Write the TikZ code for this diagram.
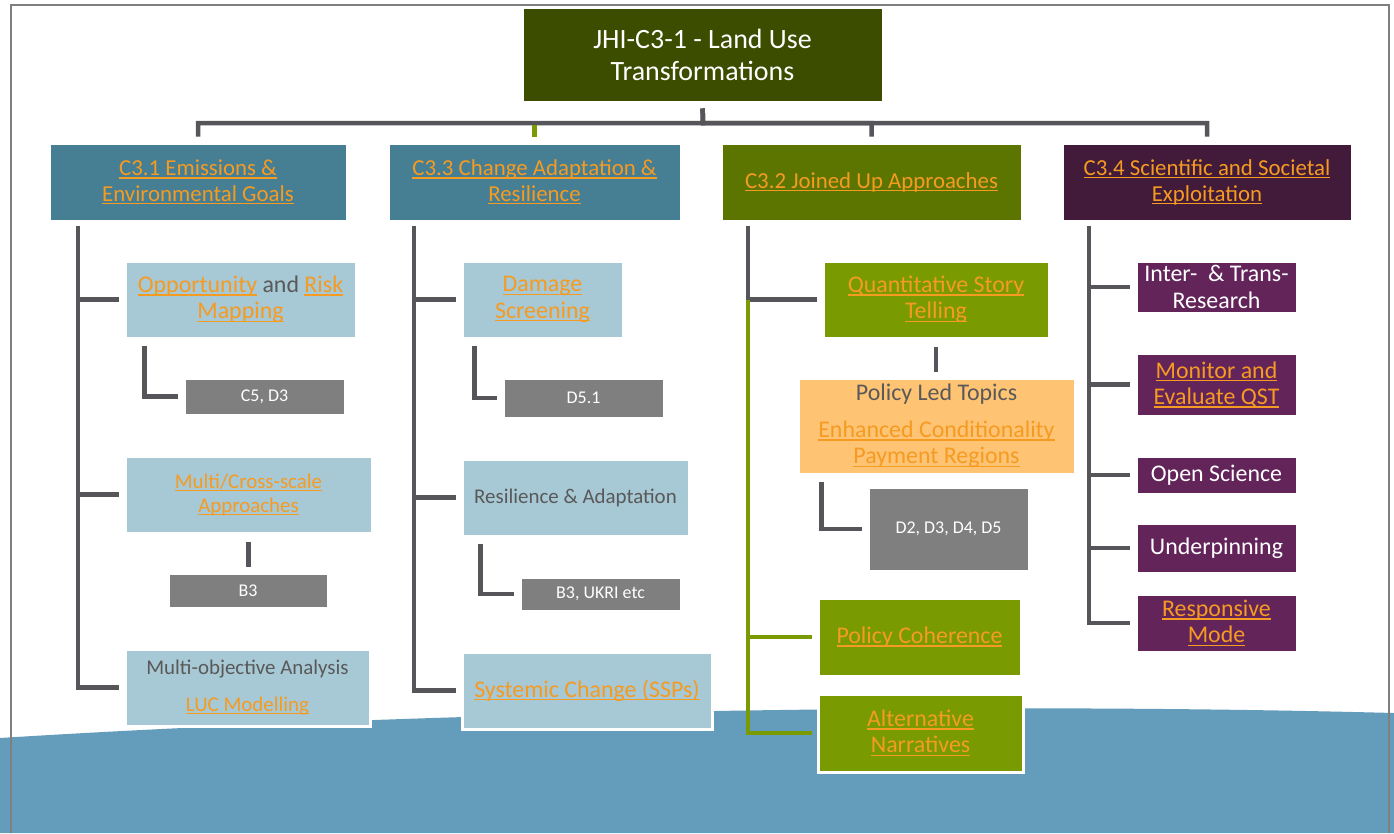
\documentclass[tikz,border=0pt]{standalone}
\usepackage{fontspec}
\setmainfont{Carlito}

\definecolor{topgreen}{HTML}{3D4D00}
\definecolor{hdrteal}{HTML}{467E93}
\definecolor{hdrolive}{HTML}{5C7500}
\definecolor{hdrplum}{HTML}{421A3A}
\definecolor{boxblue}{HTML}{A7C8D5}
\definecolor{boxolive}{HTML}{7A9A01}
\definecolor{boxplum}{HTML}{63245A}
\definecolor{boxgray}{HTML}{7F7F7F}
\definecolor{boxpeach}{HTML}{FFC374}
\definecolor{conngray}{HTML}{55555A}
\definecolor{lnkorange}{HTML}{F59B22}
\definecolor{txtgray}{HTML}{595959}
\definecolor{waveblue}{HTML}{649CBB}
\definecolor{framegray}{HTML}{7F7F7F}

% orange underlined link text
\newcommand\lnk[1]{{\color{lnkorange}\setbox0\hbox{#1}\rlap{\rule[-1.8pt]{\wd0}{0.8pt}}\box0}}

\tikzset{
  sz/.style 2 args={minimum width=#1*0.02cm, minimum height=#2*0.02cm},
  box/.style={draw=white, line width=0.06cm, inner sep=1pt, align=center, text=white,
    font=\fontsize{13.6}{15}\selectfont},
  topbox/.style={box, fill=topgreen, font=\fontsize{15.9}{18.1}\selectfont},
  hdr/.style={box, font=\fontsize{13}{14.7}\selectfont},
  lbox/.style={box, fill=boxblue, text=txtgray},
  gbox/.style={box, fill=boxgray, font=\fontsize{10.2}{12}\selectfont},
  obox/.style={box, fill=boxolive},
  pbox/.style={box, fill=boxplum},
  peach/.style={box, fill=boxpeach, text=txtgray},
  smallfont/.style={font=\fontsize{11.9}{13.6}\selectfont},
  conn/.style={draw=conngray, line width=0.09cm, shorten >=0.1cm},
  conngreen/.style={conn, draw=boxolive},
  frame/.style={draw=framegray, line width=0.03cm},
  wave/.style={fill=waveblue}
}

\begin{document}
\begin{tikzpicture}[x=0.02cm, y=-0.02cm]
\useasboundingbox (0,0) rectangle (1394,833);

% background
\fill[wave] (0,738) .. controls (350,716) and (900,700) .. (1394,713) -- (1394,833) -- (0,833) -- cycle;
\draw[frame] (11,833) -- (11,5) -- (1389,5) -- (1389,833);

% top and headers
\node[topbox, sz={361}{95}] (top) at (702.5,54.5) {JHI-C3-1 - Land Use\\Transformations};
\node[hdr, fill=hdrteal, sz={298}{78}] (h1) at (198,182) {\lnk{C3.1 Emissions \&}\\\lnk{Environmental Goals}};
\node[hdr, fill=hdrteal, sz={293}{78}] (h3) at (534.5,182) {\lnk{C3.3 Change Adaptation \&}\\\lnk{Resilience}};
\node[hdr, fill=hdrolive, sz={301}{78}] (h2) at (871.5,182) {\lnk{C3.2 Joined Up Approaches}};
\node[hdr, fill=hdrplum, sz={290}{78}] (h4) at (1207,182) {\lnk{C3.4 Scientific and Societal}\\\lnk{Exploitation}};

% column C3.1
\node[lbox, sz={231}{77}] (opp) at (240.5,299.5) {\lnk{Opportunity} and \lnk{Risk}\\\lnk{Mapping}};
\node[gbox, sz={161}{37}] (c5) at (264.5,396.5) {C5, D3};
\node[lbox, smallfont, sz={247}{77}] (mc) at (248.5,494.5) {\lnk{Multi/Cross-scale}\\\lnk{Approaches}};
\node[gbox, sz={160}{35}] (b3) at (248,590.5) {B3};
\node[lbox, smallfont, sz={245}{77}] (moa) at (247.5,687.5) {Multi-objective Analysis\\[7pt]\lnk{LUC Modelling}};

% column C3.3
\node[lbox, sz={161}{77}] (dmg) at (542.5,299.5) {\lnk{Damage}\\\lnk{Screening}};
\node[gbox, sz={161}{40}] (d51) at (583.5,398) {D5.1};
\node[lbox, smallfont, sz={227}{77}] (res) at (575.5,497.5) {Resilience \& Adaptation};
\node[gbox, sz={161}{34}] (ukri) at (600.5,594) {B3, UKRI etc};
\node[lbox, sz={250}{77}] (ssp) at (587,690.5) {\lnk{Systemic Change (SSPs)}};

% column C3.2
\node[obox, sz={226}{77}] (qst) at (936,299.5) {\lnk{Quantitative Story}\\\lnk{Telling}};
\node[peach, sz={277}{96}] (plt) at (936.5,426) {Policy Led Topics\\[6pt]\lnk{Enhanced Conditionality}\\\lnk{Payment Regions}};
\node[gbox, sz={161}{84}] (dd) at (948.5,529) {D2, D3, D4, D5};
\node[obox, sz={203}{78}] (pco) at (919.5,637) {\lnk{Policy Coherence}};
\node[obox, sz={205}{78}] (alt) at (920.5,733) {\lnk{Alternative}\\\lnk{Narratives}};

% column C3.4
\node[pbox, sz={161}{52}] (it) at (1216.5,287) {Inter-~ \& Trans-\\Research};
\node[pbox, sz={161}{63}] (mon) at (1216.5,384.5) {\lnk{Monitor and}\\\lnk{Evaluate QST}};
\node[pbox, sz={161}{38}] (os) at (1216.5,475) {Open Science};
\node[pbox, sz={161}{50}] (up) at (1216.5,548) {Underpinning};
\node[pbox, sz={161}{58}] (rm) at (1216.5,623) {\lnk{Responsive}\\\lnk{Mode}};

% top connectors
\coordinate (bus) at (703,123);
\draw[conn, shorten <=0.1cm] (top.south) -- (bus) -| (h1.north);
\draw[conn, shorten <=0.1cm] (top.south) -- (bus) -| (h2.north);
\draw[conn, shorten <=0.1cm] (top.south) -- (bus) -| (h4.north);
\draw[conngreen, shorten <=0.04cm] (h3.north |- bus) -- (h3.north);

% trunks
\coordinate (t1) at (78,226);
\coordinate (t2) at (414,226);
\coordinate (t3) at (748,226);
\coordinate (t3b) at (748,300);
\coordinate (t4) at (1089,226);

\draw[conn] (t1) |- (opp.west);
\draw[conn] (t1) |- (mc.west);
\draw[conn] (t1) |- (moa.west);
\draw[conn] (opp.south west) ++(21,6) |- (c5.west);
\draw[conn, shorten <=0.14cm] (mc.south) -- (mc.south |- b3.north);

\draw[conn] (t2) |- (dmg.west);
\draw[conn] (t2) |- (res.west);
\draw[conn] (t2) |- (ssp.west);
\draw[conn] (dmg.south west) ++(14,6) |- (d51.west);
\draw[conn] (res.south west) ++(20,6) |- (ukri.west);

\draw[conn] (t3) |- (qst.west);
\draw[conngreen] (t3b) |- (pco.west);
\draw[conngreen] (t3b) |- (alt.west);
\draw[conn, shorten <=0.14cm] (qst.south) -- (qst.south |- plt.north);
\draw[conn] (plt.south west) ++(25,6) |- (dd.west);

\draw[conn] (t4) |- (it.west);
\draw[conn] (t4) |- (mon.west);
\draw[conn] (t4) |- (os.west);
\draw[conn] (t4) |- (up.west);
\draw[conn] (t4) |- (rm.west);
\end{tikzpicture}
\end{document}
